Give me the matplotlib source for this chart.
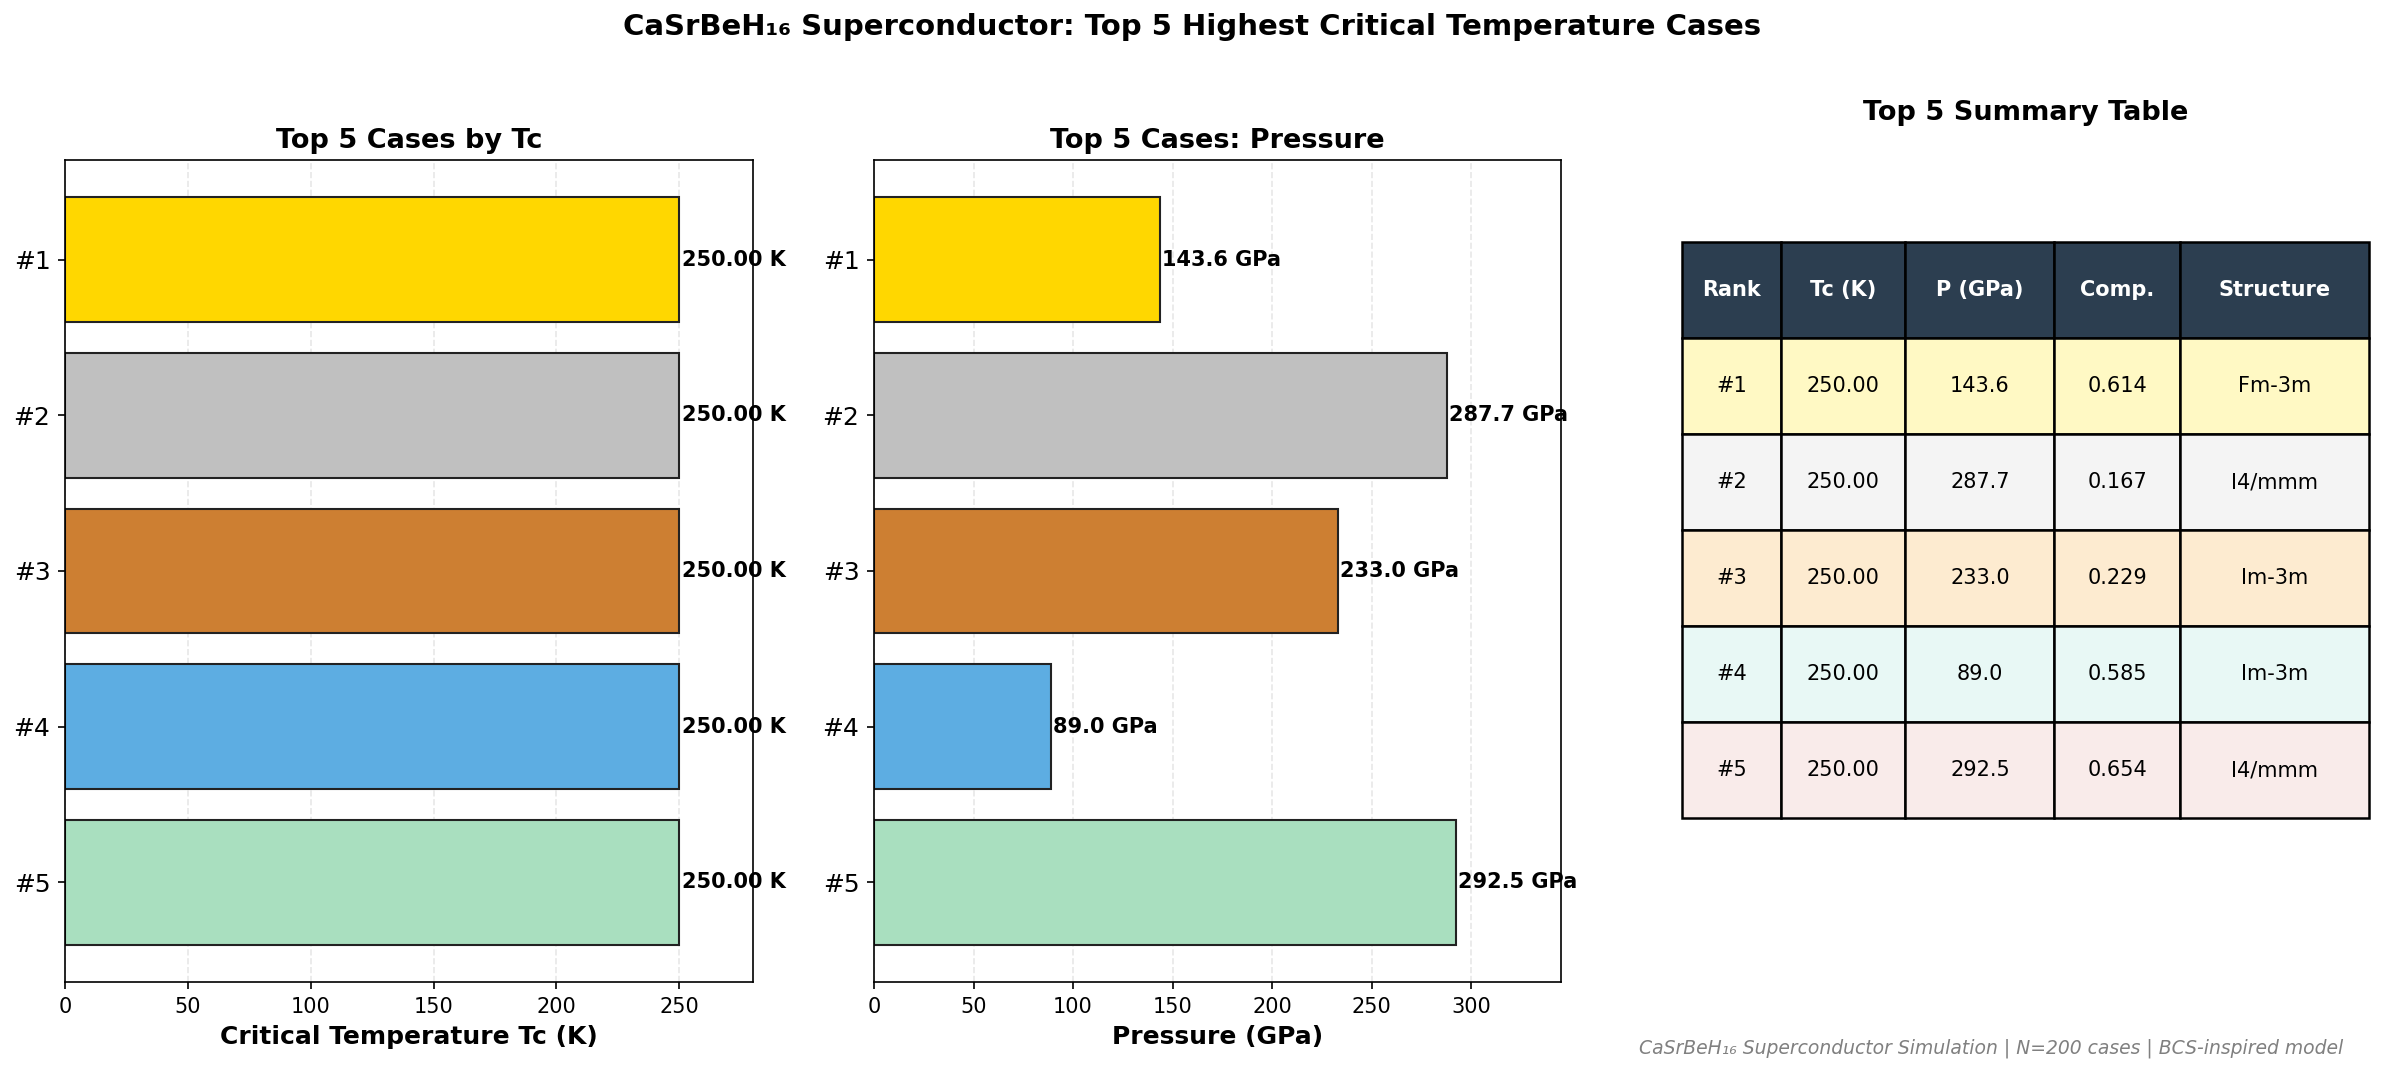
import matplotlib
matplotlib.use('Agg')
import matplotlib.pyplot as plt

# Top 5 cases
ranks = ['#1', '#2', '#3', '#4', '#5']
tc_values = [250.00, 250.00, 250.00, 250.00, 250.00]
pressures = [143.6, 287.7, 233.0, 89.0, 292.5]
compositions = [0.614, 0.167, 0.229, 0.585, 0.654]
structures = ['Fm-3m', 'I4/mmm', 'Im-3m', 'Im-3m', 'I4/mmm']

bar_colors = ['#FFD700', '#C0C0C0', '#CD7F32', '#5DADE2', '#A9DFBF']
row_colors = ['#FFF9C4', '#F4F4F4', '#FDEBD0', '#E8F8F5', '#F9EBEA']
col_labels = ['Rank', 'Tc (K)', 'P (GPa)', 'Comp.', 'Structure']

W, H = 2384, 1074
fig = plt.figure(figsize=(W / 150, H / 150), dpi=150)


def px_axes(x0, y0, x1, y1):
    # pixel box (top-left origin) -> figure fraction axes
    return fig.add_axes([x0 / W, 1 - y1 / H, (x1 - x0) / W, (y1 - y0) / H])


fig.suptitle('CaSrBeH\u2081\u2086 Superconductor: Top 5 Highest Critical Temperature Cases',
             fontsize=14, fontweight='bold', y=1 - 27 / H, va='center')

# Tc panel
ax1 = px_axes(65, 160, 753, 982)
y = range(len(ranks))
ax1.barh(y, tc_values, color=bar_colors, edgecolor='#222222', linewidth=1.0, height=0.8)
for i, v in enumerate(tc_values):
    ax1.text(v + 1, i, f'{v:.2f} K', va='center', fontsize=10, fontweight='bold')
ax1.set_yticks(list(y))
ax1.set_yticklabels(ranks, fontsize=12)
ax1.invert_yaxis()
ax1.set_xlim(0, max(tc_values) * 1.12)
ax1.set_xlabel('Critical Temperature Tc (K)', fontsize=12, fontweight='bold')
ax1.set_title('Top 5 Cases by Tc', fontsize=13, fontweight='bold')
ax1.grid(axis='x', linestyle='--', alpha=0.3)
ax1.set_axisbelow(True)
ax1.tick_params(axis='x', labelsize=10)

# Pressure panel
ax2 = px_axes(874, 160, 1561, 982)
ax2.barh(y, pressures, color=bar_colors, edgecolor='#222222', linewidth=1.0, height=0.8)
for i, v in enumerate(pressures):
    ax2.text(v + 1, i, f'{v:.1f} GPa', va='center', fontsize=10, fontweight='bold')
ax2.set_yticks(list(y))
ax2.set_yticklabels(ranks, fontsize=12)
ax2.invert_yaxis()
ax2.set_xlim(0, max(pressures) * 1.18)
ax2.set_xlabel('Pressure (GPa)', fontsize=12, fontweight='bold')
ax2.set_title('Top 5 Cases: Pressure', fontsize=13, fontweight='bold')
ax2.grid(axis='x', linestyle='--', alpha=0.3)
ax2.set_axisbelow(True)
ax2.tick_params(axis='x', labelsize=10)

# Summary table
ax3 = px_axes(1682, 160, 2369, 982)
ax3.axis('off')
ax3.set_title('Top 5 Summary Table', fontsize=13, fontweight='bold', pad=19)
cells = [[r, f'{t:.2f}', f'{p:.1f}', f'{c:.3f}', s]
         for r, t, p, c, s in zip(ranks, tc_values, pressures, compositions, structures)]
widths = [0.12, 0.15, 0.18, 0.152, 0.228]
tot = sum(widths)
table = ax3.table(cellText=cells, colLabels=col_labels, cellLoc='center',
                  colWidths=[w / tot for w in widths],
                  bbox=[0, 0.1995, 1, 0.7005])
table.auto_set_font_size(False)
table.set_fontsize(10)
for (r, c), cell in table.get_celld().items():
    cell.set_edgecolor('black')
    cell.set_linewidth(1.2)
    if r == 0:
        cell.set_facecolor('#2C3E50')
        cell.set_text_props(color='white', fontweight='bold')
    else:
        cell.set_facecolor(row_colors[r - 1])

fig.text(2343 / W, 1 - 1048 / H,
         'CaSrBeH\u2081\u2086 Superconductor Simulation | N=200 cases | BCS-inspired model',
         ha='right', va='center', fontsize=9, style='italic', color='gray')

fig.savefig('out.png', dpi=150)
